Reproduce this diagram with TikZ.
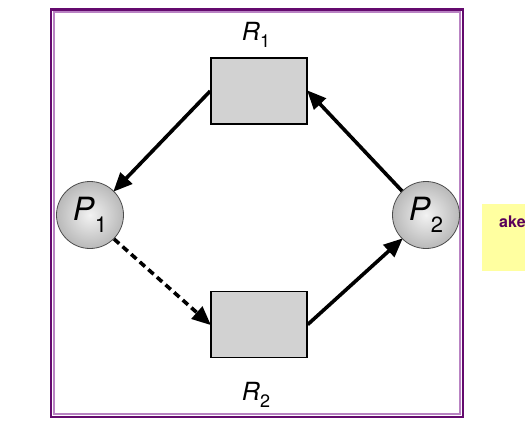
\documentclass[tikz,border=0pt]{standalone}
\usepackage{fontspec}
\setmainfont{TeX Gyre Heros}
\usetikzlibrary{arrows.meta}
\definecolor{framedark}{RGB}{100,10,110}
\definecolor{framelight}{RGB}{185,130,195}
\definecolor{boxgray}{RGB}{210,210,210}
\definecolor{noteyellow}{RGB}{255,255,160}
\definecolor{notetext}{RGB}{90,0,90}
\tikzset{
  resbox/.style={draw=black, line width=1.5pt, fill=boxgray, minimum width=96pt, minimum height=66pt, inner sep=0pt},
  procnode/.style={circle, draw=black!70, line width=0.8pt, inner color=gray!10, outer color=gray!55, minimum size=67pt, inner sep=0pt},
  edge/.style={line width=3.6pt, -{Triangle[length=19pt,width=16pt]}, shorten >=-1pt},
  dashedge/.style={edge, dash pattern=on 7pt off 4.5pt}
}
\newcommand{\plbl}[1]{{\fontsize{32}{36}\selectfont\textit{P}\raisebox{-12pt}{\fontsize{22}{26}\selectfont #1}}}
\newcommand{\rlbl}[1]{{\fontsize{25}{30}\selectfont\textit{R}\raisebox{-7pt}{\fontsize{18}{20}\selectfont #1}}}
\begin{document}
\begin{tikzpicture}[x=1pt,y=-1pt]
\useasboundingbox (0,0) rectangle (525,447);
\clip (0,0) rectangle (525,447);
% frame
\draw[framedark, line width=2.6pt] (51,9.5) rectangle (463,417);
\draw[framelight, line width=2pt] (53.8,12.2) rectangle (460.2,414.3);
% note at right
\node[fill=noteyellow, minimum width=60pt, minimum height=67pt, anchor=north west, inner sep=0pt] (note) at (482,204) {};
\node[anchor=base west, inner sep=0pt, text=notetext, font=\bfseries\fontsize{16}{18}\selectfont] (notetxt) at (499,227) {ake};
% resources
\node[resbox] (R1) at (259,91) {};
\node[resbox] (R2) at (259,324.5) {};
\node[inner sep=0pt] (R1l) at (256,35) {\rlbl{1}};
\node[inner sep=0pt] (R2l) at (256,395) {\rlbl{2}};
% processes
\node[procnode] (P1) at (90,215) {\plbl{1}};
\node[procnode] (P2) at (426,215) {\plbl{2}};
% edges
\draw[edge] (R1.west) -- (P1.45);
\draw[edge] (P2.135) -- (R1.east);
\draw[dashedge] (P1.-45) -- (R2.west);
\draw[edge] (R2.east) -- (P2.-135);
\end{tikzpicture}
\end{document}
